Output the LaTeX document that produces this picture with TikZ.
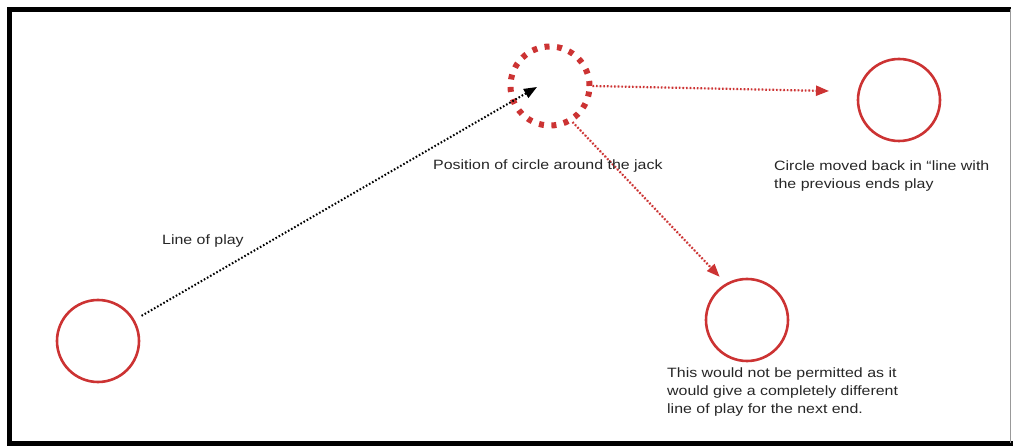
\documentclass[tikz,border=0pt]{standalone}
\usepackage{fontspec}
\setmainfont[FakeStretch=1.18,Ligatures=TeX]{Liberation Sans}
\usetikzlibrary{arrows.meta}
\definecolor{jackred}{RGB}{204,51,51}
\begin{document}
\begin{tikzpicture}[x=1pt,y=-1pt]
\tikzstyle{ring}=[circle,draw=jackred,line width=2.6pt,minimum size=82pt,inner sep=0pt]
\tikzstyle{jack ring}=[ring,line width=6pt,dash pattern=on 5pt off 7.5pt]
\tikzstyle{note}=[font=\fontsize{13.5}{18}\selectfont,inner sep=0pt,align=left,text=black!85]
\tikzstyle{play}=[line width=2pt,dash pattern=on 1.6pt off 2pt,-{Triangle[length=13pt,width=10pt]}]
\tikzstyle{red play}=[play,line width=2.2pt,draw=jackred,fill=jackred]

\useasboundingbox (0,0) rectangle (1013,446);

% Draw the frame round the picture
\draw[line width=5pt] (1011,9.5) -- (9.5,9.5) -- (9.5,443.5) -- (1013,443.5);
\draw[line width=1pt,black!40] (1010.5,9.5) -- (1010.5,443.5);

% Draw the circles
\node[ring] (start) at (98,341) {};
\node[jack ring,minimum size=79pt] (jack) at (550,86) {};
\node[ring] (moved) at (899,100) {};
\node[ring] (banned) at (747,320) {};

% Free ends of the arrows
\coordinate (aim) at (537,87);
\coordinate (back) at (829,91);

% Draw the line of play and the two moves
\draw[play,shorten <=8pt] (start) -- (aim);
\draw[red play] (jack.east) -- (back);
\draw[red play,shorten >=9pt] (jack.-58) -- (banned.120);

% Annotate the picture
\node[note,anchor=west] (lineplay) at (162,241) {Line of play};
\node[note,anchor=west] (position) at (433,166) {Position of circle around the jack};
\node[note,anchor=north west] (movedtext) at (774,161) {Circle moved back in ``line with\\the previous ends play};
\node[note,anchor=north west] (bannedtext) at (667,368) {This would not be permitted as it\\would give a completely different\\line of play for the next end.};

\end{tikzpicture}
\end{document}
